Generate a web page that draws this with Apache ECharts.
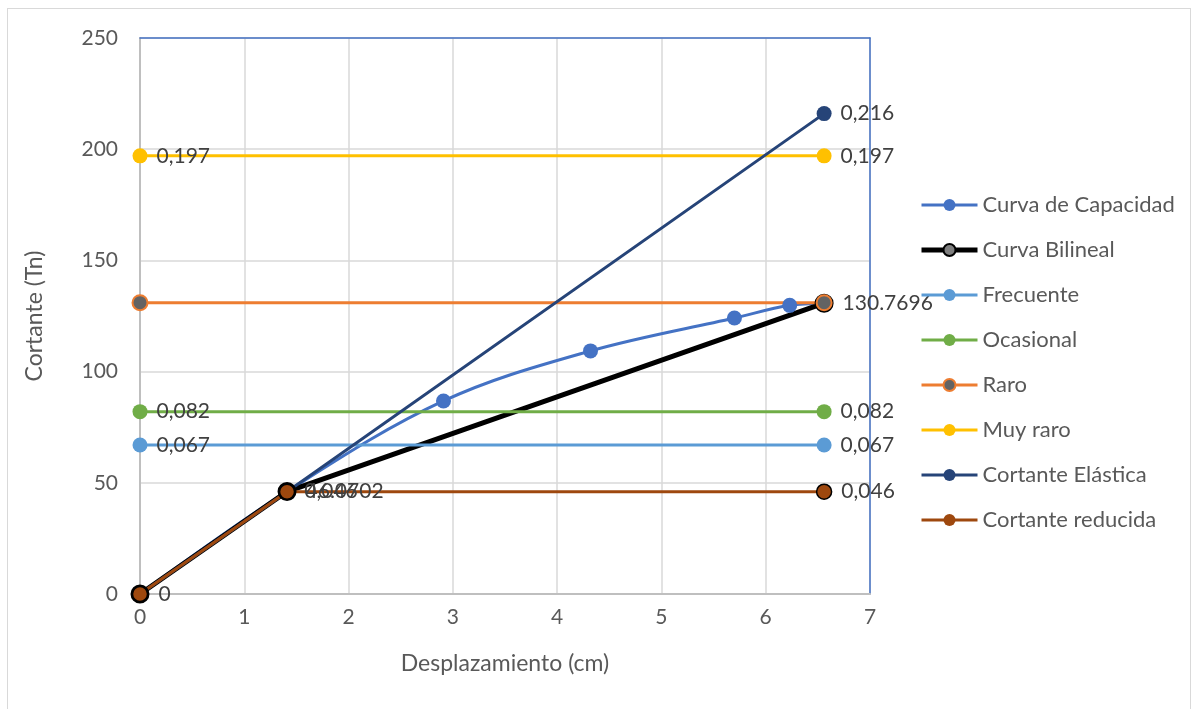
<!DOCTYPE html>
<html>
<head>
<meta charset="utf-8">
<script src="https://cdn.jsdelivr.net/npm/echarts@6/dist/echarts.min.js"></script>
<style>
html,body{margin:0;padding:0;background:#fff;}
#frame{position:absolute;left:7px;top:8px;width:1184px;height:710px;border:1.5px solid #D9D9D9;box-sizing:border-box;}
#chart{position:absolute;left:0;top:0;width:1194px;height:709px;}
</style>
</head>
<body>
<div id="frame"></div>
<div id="chart"></div>
<script>
// ---- data ----
const capX = [0, 1.41, 2.91, 4.32, 5.70, 6.23, 6.56];
const capY = [0, 46.07, 86.8, 109.3, 124.1, 129.8, 130.77];

const bilX = [0, 1.41, 6.56];
const bilY = [0, 46.0702, 130.7696];
const bilLabels = ['0', '46.0702', '130.7696'];

const levelX = [0, 6.56];
const frecuenteY = [67, 67];
const frecuenteLabels = ['0,067', '0,067'];
const ocasionalY = [82, 82];
const ocasionalLabels = ['0,082', '0,082'];
const raroY = [131, 131];
const raroLabels = ['', ''];
const muyRaroY = [197, 197];
const muyRaroLabels = ['0,197', '0,197'];

const elaX = [0, 1.41, 6.56];
const elaY = [0, 46, 216];
const elaLabels = ['', '', '0,216'];

const redX = [0, 1.41, 6.56];
const redY = [0, 46, 46];
const redLabels = ['', '0,046', '0,046'];

const xTicks = {min: 0, max: 7, interval: 1};
const yTicks = {min: 0, max: 250, interval: 50};

// ---- build ----
function pts(xs, ys) { return xs.map((x, i) => [x, ys[i]]); }
const FONT = 'Lato';
function lbl(arr) {
  return {
    show: true, position: 'right', distance: 9,
    fontFamily: FONT, fontSize: 21, color: '#404040',
    formatter: p => arr[p.dataIndex] || ''
  };
}
function ser(name, data, color, opts) {
  return Object.assign({
    name: name, type: 'line', data: data,
    xAxisIndex: 0, yAxisIndex: 0,
    symbol: 'circle', symbolSize: 15,
    lineStyle: {color: color, width: 3},
    itemStyle: {color: color},
    emphasis: {disabled: true},
    z: 2
  }, opts || {});
}

const series = [
  ser('Curva de Capacidad', pts(capX, capY), '#4472C4', {smooth: 0.35}),
  ser('Curva Bilineal', pts(bilX, bilY), '#000000', {
    lineStyle: {color: '#000', width: 5},
    symbolSize: 16,
    itemStyle: {color: '#7F7F7F', borderColor: '#000', borderWidth: 3},
    label: lbl(bilLabels)
  }),
  ser('Frecuente', pts(levelX, frecuenteY), '#5B9BD5', {label: lbl(frecuenteLabels)}),
  ser('Ocasional', pts(levelX, ocasionalY), '#70AD47', {label: lbl(ocasionalLabels)}),
  ser('Raro', pts(levelX, raroY), '#ED7D31', {
    itemStyle: {color: '#636363', borderColor: '#ED7D31', borderWidth: 2},
    label: lbl(raroLabels)
  }),
  ser('Muy raro', pts(levelX, muyRaroY), '#FFC000', {label: lbl(muyRaroLabels)}),
  ser('Cortante Elástica', pts(elaX, elaY), '#264478', {label: lbl(elaLabels)}),
  ser('Cortante reducida', pts(redX, redY), '#9E480E', {
    itemStyle: {color: '#9E480E', borderColor: '#9E480E', borderWidth: 0},
    label: lbl(redLabels)
  })
];
// keep the black outline on the reducida markers in the plot only
series[7].itemStyle = {color: '#9E480E', borderColor: '#000', borderWidth: 1.5};

const legendData = series.map(s => ({
  name: s.name,
  lineStyle: {width: s.name === 'Curva Bilineal' ? 5 : 3},
  itemStyle: s.name === 'Cortante reducida' ? {borderWidth: 0} : undefined
}));

const axisText = {fontFamily: FONT, fontSize: 21, color: '#595959'};
const chart = echarts.init(document.getElementById('chart'), null, {renderer: 'canvas'});
chart.setOption({
  animation: false,
  backgroundColor: 'transparent',
  textStyle: {fontFamily: FONT},
  grid: {left: 140, right: 324, top: 38, bottom: 115},
  legend: {
    orient: 'vertical', left: 914, top: 189,
    itemWidth: 56, itemHeight: 15, itemGap: 23,
    textStyle: {fontFamily: FONT, fontSize: 22, color: '#595959'},
    data: legendData
  },
  xAxis: [{
    type: 'value', min: xTicks.min, max: xTicks.max, interval: xTicks.interval,
    name: 'Desplazamiento (cm)', nameLocation: 'middle', nameGap: 58,
    nameTextStyle: {fontFamily: FONT, fontSize: 23, color: '#595959'},
    axisLine: {show: true, onZero: false, lineStyle: {color: '#BFBFBF', width: 2}},
    axisTick: {show: false},
    axisLabel: Object.assign({margin: 13}, axisText),
    splitLine: {show: true, lineStyle: {color: '#D9D9D9', width: 1.5}},
    z: 1
  }, {
    type: 'value', position: 'top', min: xTicks.min, max: xTicks.max, interval: xTicks.interval,
    axisLine: {show: true, onZero: false, lineStyle: {color: '#4472C4', width: 1.5}},
    axisTick: {show: false}, axisLabel: {show: false}, splitLine: {show: false},
    z: 5
  }],
  yAxis: [{
    type: 'value', min: yTicks.min, max: yTicks.max, interval: yTicks.interval,
    name: 'Cortante (Tn)', nameLocation: 'middle', nameGap: 94,
    nameTextStyle: {fontFamily: FONT, fontSize: 23, color: '#595959'},
    axisLine: {show: true, onZero: false, lineStyle: {color: '#BFBFBF', width: 2}},
    axisTick: {show: false},
    axisLabel: Object.assign({margin: 22}, axisText),
    splitLine: {show: true, lineStyle: {color: '#D9D9D9', width: 1.5}},
    z: 1
  }, {
    type: 'value', position: 'right', min: yTicks.min, max: yTicks.max, interval: yTicks.interval,
    axisLine: {show: true, onZero: false, lineStyle: {color: '#4472C4', width: 1.5}},
    axisTick: {show: false}, axisLabel: {show: false}, splitLine: {show: false},
    z: 1
  }],
  series: series
});
</script>
</body>
</html>
